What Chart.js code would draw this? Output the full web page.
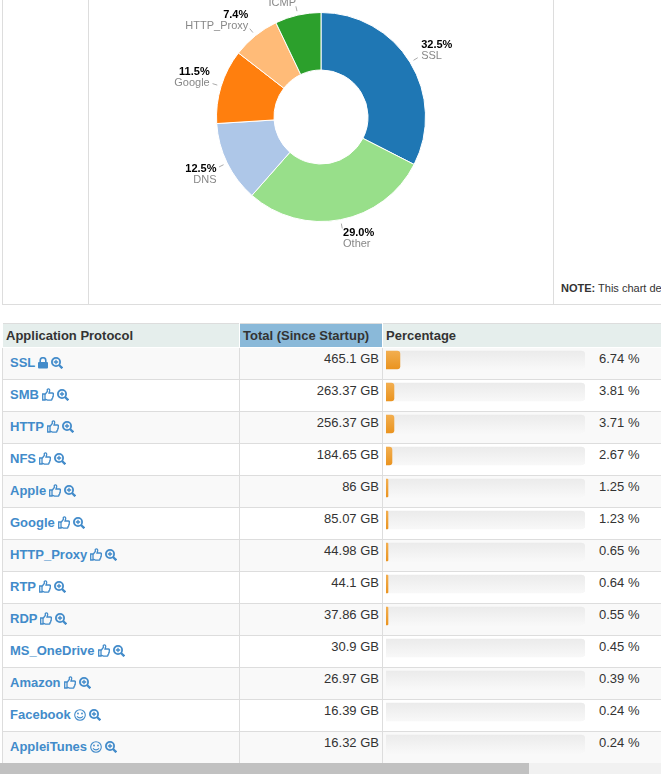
<!DOCTYPE html>
<html>
<head>
<meta charset="utf-8">
<title>Application Protocols</title>
<script src="https://cdn.jsdelivr.net/npm/chart.js@4"></script>
<style>
html, body { margin: 0; padding: 0; background: #fff; }
body { width: 661px; height: 774px; overflow: hidden; position: relative; font-family: "Liberation Sans", Arial, sans-serif; font-size: 13px; color: #333; }
.frame { position: absolute; left: 2px; top: -1px; width: 800px; height: 305px; border-left: 1px solid #ddd; border-bottom: 1px solid #ddd; }
.frame i { position: absolute; top: 0; bottom: 0; width: 1px; background: #ddd; }
.note { position: absolute; left: 561px; top: 281px; font-size: 11px; line-height: 14px; white-space: nowrap; }
#pieChart { position: absolute; left: 89px; top: 0; }
table { position: absolute; left: 2px; top: 323px; width: 800px; table-layout: fixed; border-collapse: collapse; }
th { height: 23px; padding: 0 3px; background: #e5eeec; text-align: left; font-size: 13px; line-height: 22px; border-top: 1px solid #ddd; border-bottom: 1px solid #fff; border-right: 1px solid #fff; }
th:first-child { padding-left: 3.500px; }
th.sorted { background: #8ab9d9; }
td { height: 31px; padding: 0; vertical-align: top; border-bottom: 1px solid #ddd; border-left: 1px solid #ddd; border-right: 1px solid #ddd; line-height: 15px; }
tr:nth-child(odd) td { background: #f9f9f9; }
td.name { padding: 7px 0 0 7px; font-weight: bold; color: #428bca; height: 24px; white-space: nowrap; }
td.name svg { vertical-align: -2px; margin-left: 3px; }
td.total { padding: 3px 3px 0 0; height: 28px; text-align: right; }
td.pct { padding: 3px 0 0 216px; height: 28px; border-right: 0; }
#barChart { position: absolute; left: 386px; top: 344px; pointer-events: none; }
.scroll { position: absolute; left: 0; top: 763px; width: 661px; height: 11px; background: #f1f1f1; }
.scroll div { width: 529px; height: 11px; background: #c1c1c1; }
</style>
</head>
<body>
<div class="frame"><i style="left:85px"></i><i style="left:550px"></i></div>
<div class="note"><b>NOTE:</b> This chart de</div>
<canvas id="pieChart" width="464" height="304"></canvas>
<table id="protocols">
  <colgroup><col style="width:237px"><col style="width:143px"><col></colgroup>
  <thead><tr><th>Application Protocol</th><th class="sorted">Total (Since Startup)</th><th>Percentage</th></tr></thead>
  <tbody></tbody>
</table>
<canvas id="barChart" width="199" height="416"></canvas>
<div class="scroll"><div></div></div>
<script>
// donut data
const pieLabels = ['SSL', 'Other', 'DNS', 'Google', 'HTTP_Proxy', 'ICMP'];
const pieValues = [32.5, 29.0, 12.5, 11.5, 7.4, 7.1];
const pieColors = ['#1f77b4', '#98df8a', '#aec7e8', '#ff7f0e', '#ffbb78', '#2ca02c'];

// table data
const protocols = ['SSL', 'SMB', 'HTTP', 'NFS', 'Apple', 'Google', 'HTTP_Proxy', 'RTP', 'RDP', 'MS_OneDrive', 'Amazon', 'Facebook', 'AppleiTunes'];
const totals = ['465.1 GB', '263.37 GB', '256.37 GB', '184.65 GB', '86 GB', '85.07 GB', '44.98 GB', '44.1 GB', '37.86 GB', '30.9 GB', '26.97 GB', '16.39 GB', '16.32 GB'];
const percents = ['6.74 %', '3.81 %', '3.71 %', '2.67 %', '1.25 %', '1.23 %', '0.65 %', '0.64 %', '0.55 %', '0.45 %', '0.39 %', '0.24 %', '0.24 %'];
// the progress bars show whole percents only
const barWidths = [7, 4, 4, 3, 1, 1, 1, 1, 1, 0, 0, 0, 0];
const barTrack = [100, 100, 100, 100, 100, 100, 100, 100, 100, 100, 100, 100, 100];
const rowIcons = ['lock', 'thumb', 'thumb', 'thumb', 'thumb', 'thumb', 'thumb', 'thumb', 'thumb', 'thumb', 'thumb', 'smile', 'smile'];

const icons = {
    lock: '<svg width="10" height="12" viewBox="0 0 10 12"><path d="M2.200 5V3.500a2.800 2.800 0 0 1 5.600 0V5" fill="none" stroke="#428bca" stroke-width="1.600"/><rect x="0" y="5" width="10" height="6.500" rx="1" fill="#428bca"/></svg>',
    thumb: '<svg width="12" height="13" viewBox="0 0 12 13"><path d="M.7 6h2.300v6H.7zM3 6.500L5.300 3.500V1.500C6.500.2 8 1 7.600 3L7 5h3.300c1.300 0 1.500 1.300.8 2 .5.800.2 1.600-.4 1.900.2.800-.1 1.500-.7 1.700.2 1-.4 1.500-1.200 1.500H5.500L3 11.200" fill="none" stroke="#428bca" stroke-width="1.300"/></svg>',
    smile: '<svg width="12" height="12" viewBox="0 0 12 12"><circle cx="6" cy="6" r="5.300" fill="none" stroke="#428bca" stroke-width="1.100"/><circle cx="4" cy="4.500" r=".9" fill="#428bca"/><circle cx="8" cy="4.500" r=".9" fill="#428bca"/><path d="M3 7.200c1.500 2.200 4.500 2.200 6 0" fill="none" stroke="#428bca" stroke-width="1.100"/></svg>',
    zoom: '<svg width="12" height="12" viewBox="0 0 12 12"><circle cx="5" cy="5" r="4.100" fill="none" stroke="#428bca" stroke-width="1.800"/><path d="M8 8l3.300 3.300" stroke="#428bca" stroke-width="2.300"/><path d="M2.800 5h4.400M5 2.800v4.400" stroke="#428bca" stroke-width="1.300"/></svg>'
};

// fill the table
const tbody = document.querySelector('#protocols tbody');
for (let i = 0; i < protocols.length; i++) {
    const row = document.createElement('tr');
    row.innerHTML = '<td class="name">' + protocols[i] + icons[rowIcons[i]] + icons.zoom + '</td>' +
        '<td class="total">' + totals[i] + '</td>' +
        '<td class="pct">' + percents[i] + '</td>';
    tbody.appendChild(row);
}

// leader lines and labels round the donut
const sliceLabels = {
    id: 'sliceLabels',
    afterDraw(chart) {
        const ctx = chart.ctx;
        const arcs = chart.getDatasetMeta(0).data;
        ctx.save();
        arcs.forEach(function(arc, i) {
            const angle = (arc.startAngle + arc.endAngle) / 2;
            const dx = Math.cos(angle);
            const dy = Math.sin(angle);
            const r = arc.outerRadius;
            ctx.strokeStyle = '#aaa';
            ctx.lineWidth = 1;
            ctx.beginPath();
            ctx.moveTo(arc.x + dx * (r + 4), arc.y + dy * (r + 4));
            ctx.lineTo(arc.x + dx * (r + 9), arc.y + dy * (r + 9));
            ctx.stroke();

            const x = arc.x + dx * (r + 13) + (dx < 0 ? 1 : 0);
            const y = arc.y + dy * (r + 13);
            // top half: name sits on the anchor, bottom half: percent does
            const percentY = (dy < 0 ? y - 11 : y) + 0.5;
            ctx.textAlign = dx < 0 ? 'right' : 'left';
            ctx.textBaseline = 'middle';
            ctx.font = 'bold 11px "Liberation Sans"';
            ctx.fillStyle = '#000';
            ctx.fillText(pieValues[i].toFixed(1) + '%', x, percentY);
            ctx.font = '11px "Liberation Sans"';
            ctx.fillStyle = '#888';
            ctx.fillText(pieLabels[i], x, percentY + 11);
        });
        ctx.restore();
    }
};

new Chart(document.getElementById('pieChart'), {
    type: 'doughnut',
    data: {
        labels: pieLabels,
        datasets: [{
            data: pieValues,
            backgroundColor: pieColors,
            borderColor: '#fff',
            borderWidth: 1
        }]
    },
    options: {
        responsive: false,
        animation: false,
        cutout: '45%',
        layout: { padding: { top: 12, bottom: 82 } },
        plugins: { legend: { display: false }, tooltip: { enabled: false } }
    },
    plugins: [sliceLabels]
});

function rowGradient(context, top, bottom) {
    const chart = context.chart;
    const mid = chart.scales.y.getPixelForValue(context.dataIndex);
    const g = chart.ctx.createLinearGradient(0, mid - 9, 0, mid + 9);
    g.addColorStop(0, top);
    g.addColorStop(1, bottom);
    return g;
}

new Chart(document.getElementById('barChart'), {
    type: 'bar',
    data: {
        labels: protocols,
        datasets: [
            {
                data: barWidths,
                grouped: false,
                barThickness: 18,
                borderRadius: 3,
                backgroundColor: function(context) {
                    if (!context.chart.chartArea) return '#f0ad4e';
                    // empty bars leave a hairline otherwise
                    if (barWidths[context.dataIndex] === 0) return 'rgba(0,0,0,0)';
                    return rowGradient(context, '#f2ae4f', '#ea9420');
                }
            },
            {
                data: barTrack,
                grouped: false,
                barThickness: 18,
                borderRadius: 4,
                backgroundColor: function(context) {
                    if (!context.chart.chartArea) return '#f5f5f5';
                    return rowGradient(context, '#ebebeb', '#f8f8f8');
                }
            }
        ]
    },
    options: {
        indexAxis: 'y',
        responsive: false,
        animation: false,
        scales: {
            x: { display: false, min: 0, max: 100 },
            y: { display: false }
        },
        plugins: { legend: { display: false }, tooltip: { enabled: false } }
    }
});
</script>
</body>
</html>
